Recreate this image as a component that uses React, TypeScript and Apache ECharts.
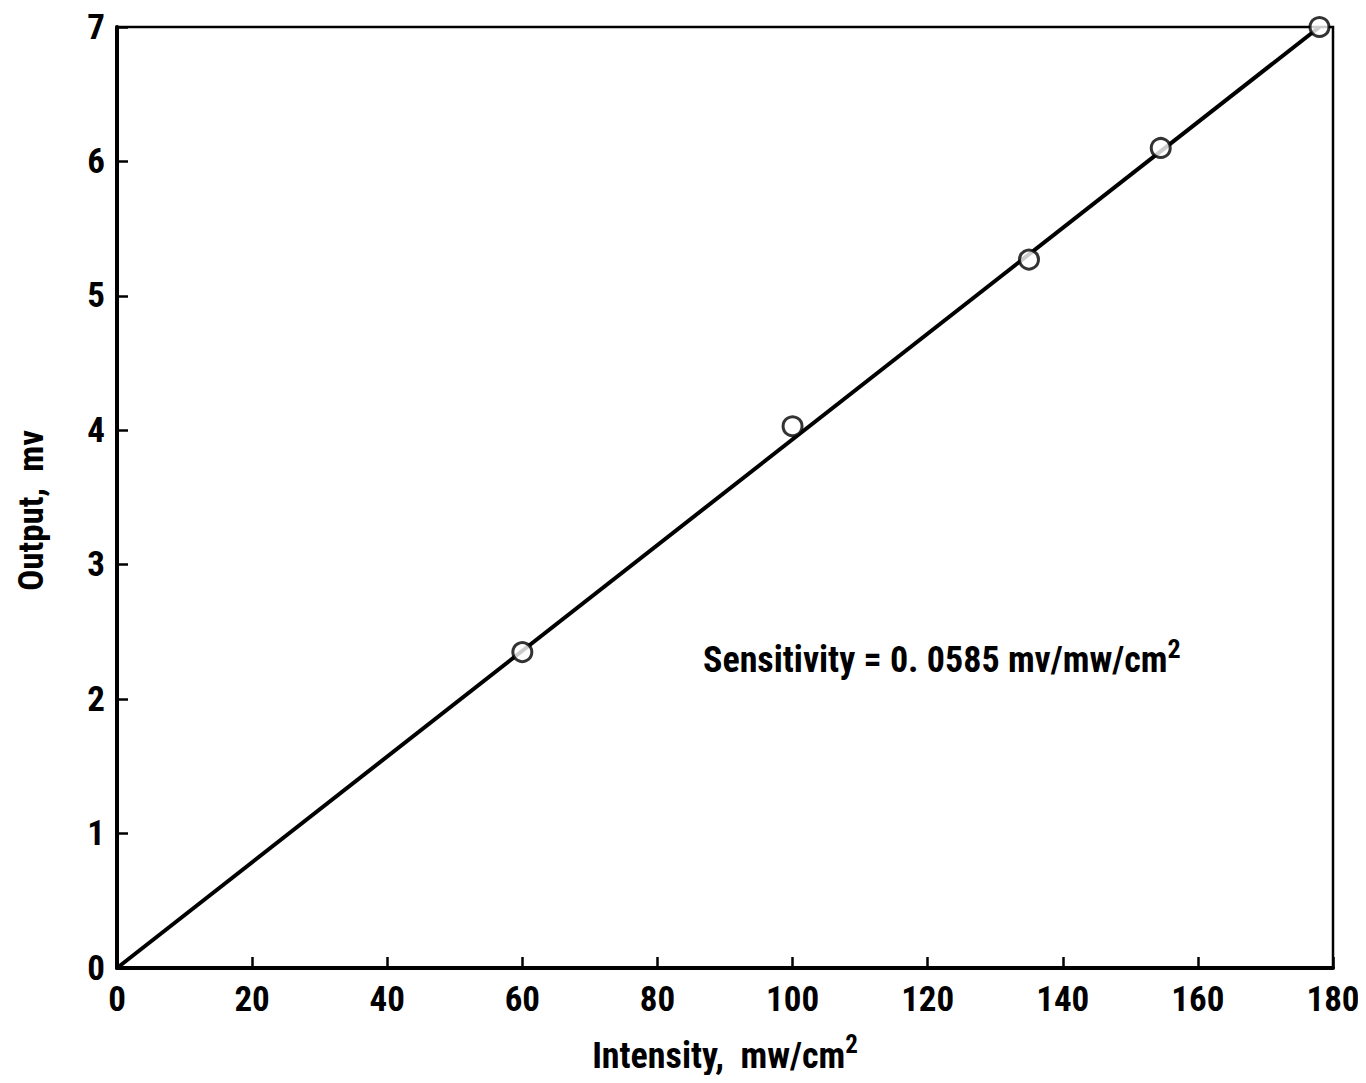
import React, { useEffect, useRef } from "react";
import * as echarts from "echarts";

const intensity = [60, 100, 135, 154.5, 178];
const output = [2.35, 4.03, 5.27, 6.1, 7.0];
const fitLine = [
  [0, 0],
  [178, 7.0],
];
const xTicks = [0, 20, 40, 60, 80, 100, 120, 140, 160, 180];
const yTicks = [0, 1, 2, 3, 4, 5, 6, 7];

const FONT = "'Roboto Condensed', 'DejaVu Sans Condensed', sans-serif";
const W = "bold";

export default function App() {
  const ref = useRef<HTMLDivElement>(null);
  useEffect(() => {
    if (!ref.current) return;
    const chart = echarts.init(ref.current, null, { renderer: "svg" });
    chart.setOption({
      animation: false,
      backgroundColor: "#fff",
      grid: {
        left: 117,
        right: 33,
        top: 27,
        bottom: 115,
        show: true,
        borderColor: "#000",
        borderWidth: 2.5,
        outerBoundsMode: "none",
        containLabel: false,
      },
      xAxis: {
        type: "value",
        min: xTicks[0],
        max: xTicks[xTicks.length - 1],
        interval: 20,
        axisLine: { show: true, onZero: false, lineStyle: { color: "#000", width: 4 } },
        axisTick: { show: true, inside: true, length: 11, lineStyle: { color: "#000", width: 2.5 } },
        splitLine: { show: false },
        axisLabel: {
          margin: 14,
          color: "#000",
          fontFamily: FONT,
          fontWeight: W,
          fontSize: 35,
          formatter: (v: number) => (xTicks.includes(v) ? String(v) : ""),
        },
        name: "{a|Intensity,  mw/cm}{s|2}",
        nameLocation: "middle",
        nameGap: 64,
        nameTextStyle: {
          rich: {
            a: { fontFamily: FONT, fontWeight: W, fontSize: 36, color: "#000", verticalAlign: "bottom", lineHeight: 42 },
            s: { fontFamily: FONT, fontWeight: W, fontSize: 25, color: "#000", verticalAlign: "top", lineHeight: 42, padding: [0, 0, 16, 0] },
          },
        },
      },
      yAxis: {
        type: "value",
        min: yTicks[0],
        max: yTicks[yTicks.length - 1],
        interval: 1,
        axisLine: { show: true, onZero: false, lineStyle: { color: "#000", width: 4 } },
        axisTick: { show: true, inside: true, length: 11, lineStyle: { color: "#000", width: 2.5 } },
        splitLine: { show: false },
        axisLabel: {
          margin: 12,
          color: "#000",
          fontFamily: FONT,
          fontWeight: W,
          fontSize: 35,
          formatter: (v: number) => (yTicks.includes(v) ? String(v) : ""),
        },
        name: "Output,  mv",
        nameLocation: "middle",
        nameGap: 68,
        nameRotate: 90,
        nameTextStyle: { fontFamily: FONT, fontWeight: W, fontSize: 35, color: "#000", padding: [0, 26, 0, 0] },
      },
      series: [
        {
          type: "line",
          data: fitLine,
          symbol: "none",
          lineStyle: { color: "#000", width: 4 },
          z: 2,
        },
        {
          type: "scatter",
          data: intensity.map((x, i) => [x, output[i]]),
          symbol: "circle",
          symbolSize: 19,
          itemStyle: { color: "#fff", borderColor: "#000", borderWidth: 3 },
          z: 3,
        },
      ],
      graphic: [
        {
          type: "text",
          left: 703,
          top: 636,
          style: {
            text: "{a|Sensitivity = 0. 0585 mv/mw/cm}{s|2}",
            rich: {
              a: { fontFamily: FONT, fontWeight: W, fontSize: 36, fill: "#000", verticalAlign: "bottom", lineHeight: 42 },
              s: { fontFamily: FONT, fontWeight: W, fontSize: 26, fill: "#000", verticalAlign: "top", lineHeight: 42, padding: [0, 0, 16, 0] },
            },
          },
        },
      ],
    });
    return () => chart.dispose();
  }, []);
  return <div ref={ref} style={{ width: 1366, height: 1083, margin: -8 }} />;
}
